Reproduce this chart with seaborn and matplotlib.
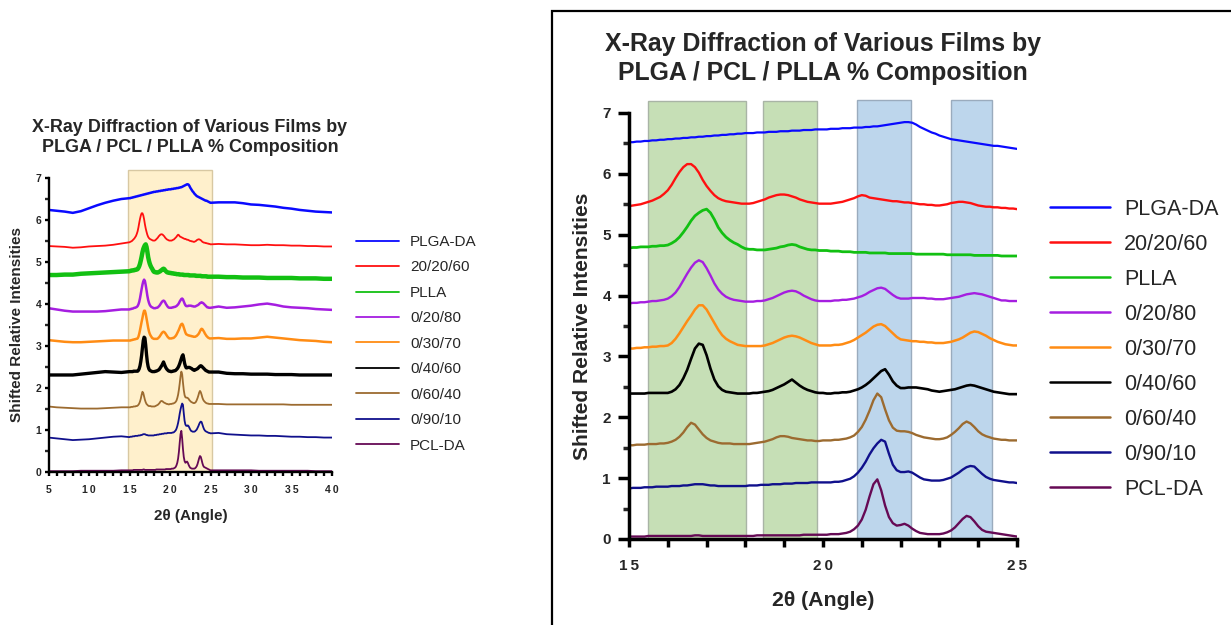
import numpy as np
import pandas as pd
import matplotlib
matplotlib.use("Agg")
import matplotlib.pyplot as plt
from matplotlib.patches import Rectangle
from matplotlib.lines import Line2D
from matplotlib.ticker import MultipleLocator, FixedLocator, FuncFormatter
import seaborn as sns

sns.set_theme(style="ticks")
plt.rcParams["font.family"] = ["Liberation Sans", "DejaVu Sans"]

# ---- diffraction data (shifted relative intensity vs 2-theta) ----
# sampled every degree outside 15-25 and every 0.1 degree inside it
ANGLE = np.concatenate([np.arange(5, 15), np.round(np.linspace(15, 25, 101), 1), np.arange(26, 41)])

SAMPLES = ["PLGA-DA", "20/20/60", "PLLA", "0/20/80", "0/30/70", "0/40/60", "0/60/40", "0/90/10", "PCL-DA"]
COLORS = ["#0a0aff", "#ff1010", "#12c012", "#a51ee0", "#ff8c14", "#000000", "#9c6b30", "#10108c", "#660a55"]

PLGA_DA = [6.24, 6.22, 6.20, 6.17, 6.21, 6.28, 6.35, 6.41, 6.46, 6.50,
           6.52, 6.52, 6.53, 6.53, 6.54, 6.54, 6.55, 6.55, 6.56, 6.56,
           6.57, 6.57, 6.58, 6.58, 6.59, 6.59, 6.60, 6.60, 6.61, 6.61,
           6.62, 6.62, 6.63, 6.63, 6.64, 6.64, 6.65, 6.65, 6.66, 6.66,
           6.67, 6.67, 6.67, 6.68, 6.68, 6.68, 6.69, 6.69, 6.69, 6.70,
           6.70, 6.70, 6.71, 6.71, 6.71, 6.72, 6.72, 6.72, 6.73, 6.73,
           6.73, 6.73, 6.74, 6.74, 6.74, 6.75, 6.75, 6.75, 6.76, 6.76,
           6.76, 6.77, 6.77, 6.78, 6.78, 6.79, 6.80, 6.81, 6.82, 6.83,
           6.84, 6.85, 6.85, 6.84, 6.81, 6.77, 6.74, 6.71, 6.68, 6.66,
           6.63, 6.61, 6.59, 6.57, 6.56, 6.55, 6.54, 6.53, 6.52, 6.51,
           6.50, 6.49, 6.48, 6.47, 6.46, 6.46, 6.45, 6.44, 6.43, 6.42,
           6.41,
           6.42, 6.42, 6.42, 6.40, 6.37, 6.36, 6.34, 6.32, 6.29, 6.27, 6.24, 6.22, 6.20, 6.19, 6.18]

BLEND_20_20_60 = [5.38, 5.37, 5.36, 5.34, 5.35, 5.37, 5.38, 5.39, 5.41, 5.44,
                  5.47, 5.48, 5.49, 5.50, 5.52, 5.54, 5.56, 5.59, 5.62, 5.67,
                  5.73, 5.82, 5.93, 6.03, 6.11, 6.16, 6.16, 6.11, 6.02, 5.90,
                  5.80, 5.72, 5.65, 5.60, 5.57, 5.55, 5.54, 5.53, 5.52, 5.51,
                  5.51, 5.51, 5.52, 5.54, 5.56, 5.58, 5.61, 5.63, 5.65, 5.66,
                  5.66, 5.65, 5.63, 5.61, 5.58, 5.56, 5.54, 5.53, 5.52, 5.51,
                  5.51, 5.51, 5.51, 5.52, 5.53, 5.54, 5.56, 5.58, 5.60, 5.63,
                  5.65, 5.64, 5.61, 5.60, 5.59, 5.58, 5.57, 5.56, 5.55, 5.55,
                  5.54, 5.53, 5.53, 5.52, 5.51, 5.50, 5.50, 5.49, 5.49, 5.48,
                  5.48, 5.49, 5.50, 5.52, 5.53, 5.54, 5.54, 5.53, 5.52, 5.50,
                  5.48, 5.47, 5.46, 5.46, 5.45, 5.45, 5.44, 5.44, 5.43, 5.43,
                  5.42,
                  5.43, 5.42, 5.42, 5.41, 5.40, 5.40, 5.41, 5.40, 5.40, 5.39, 5.39, 5.38, 5.38, 5.37, 5.37]

PLLA = [4.69, 4.69, 4.70, 4.70, 4.72, 4.73, 4.74, 4.75, 4.76, 4.77,
        4.78, 4.79, 4.79, 4.80, 4.80, 4.80, 4.81, 4.81, 4.82, 4.82,
        4.83, 4.86, 4.90, 4.96, 5.04, 5.13, 5.23, 5.31, 5.36, 5.40,
        5.42, 5.36, 5.25, 5.12, 5.03, 4.96, 4.91, 4.87, 4.84, 4.80,
        4.77, 4.76, 4.76, 4.75, 4.75, 4.75, 4.76, 4.77, 4.78, 4.80,
        4.81, 4.83, 4.84, 4.83, 4.80, 4.78, 4.76, 4.75, 4.75, 4.74,
        4.74, 4.74, 4.73, 4.73, 4.73, 4.72, 4.72, 4.72, 4.71, 4.71,
        4.71, 4.71, 4.70, 4.70, 4.70, 4.70, 4.70, 4.69, 4.69, 4.69,
        4.69, 4.69, 4.69, 4.69, 4.68, 4.68, 4.68, 4.68, 4.68, 4.68,
        4.68, 4.68, 4.67, 4.67, 4.67, 4.67, 4.67, 4.67, 4.67, 4.66,
        4.66, 4.66, 4.66, 4.66, 4.66, 4.66, 4.65, 4.65, 4.65, 4.65,
        4.65,
        4.65, 4.64, 4.64, 4.63, 4.63, 4.63, 4.62, 4.62, 4.62, 4.62, 4.61, 4.61, 4.61, 4.60, 4.60]

BLEND_0_20_80 = [3.90, 3.87, 3.84, 3.82, 3.82, 3.82, 3.82, 3.83, 3.85, 3.87,
                 3.87, 3.88, 3.88, 3.89, 3.89, 3.90, 3.91, 3.91, 3.92, 3.93,
                 3.95, 3.99, 4.05, 4.14, 4.25, 4.36, 4.46, 4.54, 4.58, 4.55,
                 4.45, 4.33, 4.20, 4.10, 4.03, 3.98, 3.95, 3.93, 3.92, 3.91,
                 3.90, 3.90, 3.90, 3.91, 3.91, 3.92, 3.94, 3.96, 3.99, 4.02,
                 4.05, 4.07, 4.08, 4.07, 4.04, 4.00, 3.97, 3.94, 3.92, 3.91,
                 3.91, 3.91, 3.91, 3.92, 3.92, 3.93, 3.93, 3.94, 3.95, 3.97,
                 3.99, 4.02, 4.06, 4.09, 4.12, 4.13, 4.11, 4.06, 4.01, 3.97,
                 3.95, 3.95, 3.95, 3.96, 3.96, 3.96, 3.96, 3.95, 3.95, 3.94,
                 3.94, 3.94, 3.95, 3.96, 3.97, 3.98, 4.00, 4.02, 4.03, 4.04,
                 4.03, 4.02, 4.00, 3.98, 3.96, 3.94, 3.92, 3.92, 3.91, 3.91,
                 3.91,
                 3.94, 3.91, 3.92, 3.94, 3.96, 3.99, 4.01, 3.98, 3.94, 3.92, 3.91, 3.90, 3.88, 3.87, 3.86]

BLEND_0_30_70 = [3.14, 3.12, 3.10, 3.09, 3.09, 3.10, 3.11, 3.12, 3.13, 3.13,
                 3.13, 3.13, 3.14, 3.14, 3.15, 3.15, 3.16, 3.16, 3.17, 3.17,
                 3.18, 3.22, 3.29, 3.38, 3.48, 3.58, 3.67, 3.77, 3.84, 3.84,
                 3.77, 3.66, 3.55, 3.44, 3.35, 3.29, 3.25, 3.22, 3.19, 3.18,
                 3.17, 3.17, 3.17, 3.17, 3.17, 3.18, 3.20, 3.22, 3.25, 3.28,
                 3.31, 3.33, 3.34, 3.33, 3.31, 3.28, 3.25, 3.22, 3.20, 3.18,
                 3.18, 3.18, 3.18, 3.19, 3.19, 3.20, 3.22, 3.24, 3.27, 3.31,
                 3.35, 3.39, 3.44, 3.49, 3.52, 3.53, 3.50, 3.44, 3.38, 3.32,
                 3.28, 3.27, 3.26, 3.25, 3.25, 3.24, 3.24, 3.23, 3.23, 3.22,
                 3.22, 3.22, 3.23, 3.24, 3.26, 3.28, 3.31, 3.35, 3.39, 3.41,
                 3.40, 3.37, 3.34, 3.30, 3.27, 3.24, 3.22, 3.20, 3.19, 3.18,
                 3.18,
                 3.19, 3.17, 3.17, 3.18, 3.18, 3.20, 3.22, 3.20, 3.18, 3.16, 3.14, 3.13, 3.12, 3.10, 3.09]

BLEND_0_40_60 = [2.31, 2.31, 2.31, 2.31, 2.33, 2.35, 2.37, 2.39, 2.38, 2.37,
                 2.39, 2.39, 2.39, 2.39, 2.39, 2.40, 2.40, 2.40, 2.40, 2.40,
                 2.40, 2.42, 2.46, 2.53, 2.64, 2.78, 2.96, 3.13, 3.21, 3.19,
                 3.02, 2.80, 2.62, 2.51, 2.45, 2.42, 2.41, 2.40, 2.39, 2.39,
                 2.39, 2.39, 2.40, 2.40, 2.41, 2.42, 2.43, 2.45, 2.48, 2.51,
                 2.54, 2.58, 2.62, 2.57, 2.52, 2.48, 2.45, 2.43, 2.41, 2.40,
                 2.40, 2.39, 2.39, 2.40, 2.40, 2.41, 2.41, 2.42, 2.44, 2.46,
                 2.49, 2.53, 2.58, 2.64, 2.70, 2.76, 2.79, 2.70, 2.59, 2.52,
                 2.48, 2.48, 2.49, 2.49, 2.49, 2.48, 2.47, 2.46, 2.44, 2.43,
                 2.42, 2.43, 2.44, 2.45, 2.46, 2.48, 2.50, 2.52, 2.53, 2.52,
                 2.50, 2.48, 2.46, 2.44, 2.42, 2.41, 2.40, 2.39, 2.38, 2.38,
                 2.38,
                 2.38, 2.35, 2.34, 2.34, 2.33, 2.33, 2.33, 2.32, 2.32, 2.32, 2.31, 2.31, 2.31, 2.31, 2.31]

BLEND_0_60_40 = [1.56, 1.54, 1.53, 1.52, 1.51, 1.51, 1.51, 1.52, 1.53, 1.54,
                 1.54, 1.54, 1.55, 1.55, 1.55, 1.56, 1.56, 1.56, 1.57, 1.57,
                 1.58, 1.60, 1.63, 1.68, 1.75, 1.84, 1.91, 1.88, 1.80, 1.72,
                 1.66, 1.62, 1.60, 1.58, 1.57, 1.57, 1.57, 1.56, 1.56, 1.56,
                 1.56, 1.56, 1.57, 1.58, 1.59, 1.60, 1.62, 1.64, 1.67, 1.69,
                 1.69, 1.68, 1.66, 1.65, 1.64, 1.63, 1.62, 1.62, 1.61, 1.61,
                 1.62, 1.62, 1.62, 1.63, 1.63, 1.64, 1.65, 1.67, 1.70, 1.76,
                 1.84, 1.96, 2.11, 2.28, 2.39, 2.33, 2.13, 1.95, 1.83, 1.78,
                 1.77, 1.77, 1.76, 1.74, 1.71, 1.69, 1.67, 1.66, 1.65, 1.64,
                 1.64, 1.65, 1.67, 1.71, 1.76, 1.82, 1.89, 1.93, 1.90, 1.84,
                 1.77, 1.72, 1.69, 1.67, 1.65, 1.64, 1.63, 1.63, 1.62, 1.62,
                 1.62,
                 1.62, 1.61, 1.61, 1.61, 1.61, 1.61, 1.61, 1.61, 1.61, 1.60, 1.60, 1.60, 1.60, 1.60, 1.60]

BLEND_0_90_10 = [0.82, 0.80, 0.78, 0.76, 0.77, 0.78, 0.80, 0.82, 0.84, 0.85,
                 0.83, 0.84, 0.84, 0.84, 0.85, 0.85, 0.85, 0.86, 0.86, 0.86,
                 0.86, 0.87, 0.87, 0.87, 0.88, 0.88, 0.89, 0.90, 0.90, 0.90,
                 0.89, 0.88, 0.88, 0.87, 0.87, 0.87, 0.87, 0.87, 0.87, 0.87,
                 0.87, 0.88, 0.88, 0.88, 0.89, 0.89, 0.89, 0.90, 0.90, 0.90,
                 0.91, 0.91, 0.91, 0.92, 0.92, 0.92, 0.92, 0.93, 0.93, 0.93,
                 0.93, 0.93, 0.93, 0.94, 0.94, 0.95, 0.97, 0.99, 1.03, 1.09,
                 1.17, 1.27, 1.39, 1.49, 1.57, 1.63, 1.60, 1.40, 1.22, 1.13,
                 1.10, 1.10, 1.11, 1.09, 1.05, 1.01, 0.98, 0.97, 0.96, 0.96,
                 0.96, 0.97, 0.99, 1.01, 1.05, 1.09, 1.14, 1.18, 1.20, 1.19,
                 1.13, 1.07, 1.02, 0.99, 0.97, 0.96, 0.95, 0.94, 0.93, 0.93,
                 0.92,
                 0.93, 0.90, 0.89, 0.88, 0.87, 0.87, 0.86, 0.86, 0.85, 0.84, 0.84, 0.83, 0.83, 0.82, 0.82]

PCL_DA = [0.02, 0.02, 0.02, 0.02, 0.03, 0.03, 0.03, 0.03, 0.03, 0.04,
          0.04, 0.04, 0.04, 0.04, 0.04, 0.05, 0.05, 0.05, 0.05, 0.05,
          0.05, 0.05, 0.05, 0.05, 0.05, 0.05, 0.05, 0.06, 0.06, 0.05,
          0.05, 0.05, 0.05, 0.05, 0.05, 0.05, 0.05, 0.05, 0.05, 0.05,
          0.05, 0.05, 0.05, 0.06, 0.06, 0.06, 0.06, 0.06, 0.06, 0.06,
          0.06, 0.06, 0.06, 0.06, 0.06, 0.07, 0.07, 0.07, 0.07, 0.07,
          0.07, 0.07, 0.08, 0.08, 0.08, 0.09, 0.10, 0.12, 0.16, 0.22,
          0.32, 0.48, 0.70, 0.90, 0.98, 0.80, 0.55, 0.36, 0.26, 0.22,
          0.23, 0.25, 0.22, 0.17, 0.13, 0.10, 0.09, 0.08, 0.08, 0.08,
          0.08, 0.09, 0.11, 0.14, 0.19, 0.26, 0.33, 0.38, 0.36, 0.29,
          0.21, 0.15, 0.12, 0.11, 0.10, 0.09, 0.08, 0.07, 0.06, 0.05,
          0.04,
          0.04, 0.04, 0.04, 0.04, 0.04, 0.03, 0.03, 0.03, 0.03, 0.03, 0.03, 0.03, 0.02, 0.02, 0.02]

SERIES = [PLGA_DA, BLEND_20_20_60, PLLA, BLEND_0_20_80, BLEND_0_30_70,
          BLEND_0_40_60, BLEND_0_60_40, BLEND_0_90_10, PCL_DA]

df = pd.concat(
    [pd.DataFrame({"angle": ANGLE, "intensity": vals, "sample": name})
     for name, vals in zip(SAMPLES, SERIES)],
    ignore_index=True,
)

# highlighted 2-theta windows
OVERVIEW_BAND = (14.86, 25.2)
PLLA_BANDS = [(15.5, 18.02), (18.45, 19.85)]
PCL_BANDS = [(20.88, 22.27), (23.3, 24.36)]

# line weights: thicker where the raw trace is noisier
LW_OVERVIEW = [1.8, 1.3, 3.2, 1.8, 1.8, 2.4, 1.3, 1.3, 1.3]
LW_DETAIL = [1.6, 1.7, 2.0, 1.7, 1.8, 1.9, 1.7, 1.7, 1.7]

W, H = 1231, 625
fig = plt.figure(figsize=(W / 100, H / 100), dpi=100)
fig.patch.set_facecolor("white")


def fx(px):
    return px / W


def fy(py):
    return 1 - py / H


# tick numbers are printed with a little letter spacing
spaced = FuncFormatter(lambda v, p: "\u2009".join(f"{v:g}"))


def style_axes(ax, xlim, spine_w, tick_fs, xlen, ylen, ymlen, xpad, ypad, xmajor):
    ax.set_facecolor("none")
    ax.set_xlim(*xlim)
    ax.set_ylim(0, 7.3)
    for s in ("top", "right"):
        ax.spines[s].set_visible(False)
    ax.spines["left"].set_bounds(0, 7)
    ax.spines["bottom"].set_bounds(*xlim)
    for s in ("left", "bottom"):
        ax.spines[s].set_linewidth(spine_w)
        ax.spines[s].set_color("black")
    ax.xaxis.set_major_locator(MultipleLocator(xmajor))
    ax.xaxis.set_minor_locator(MultipleLocator(1))
    ax.xaxis.set_major_formatter(spaced)
    ax.yaxis.set_major_locator(FixedLocator(range(0, 8)))
    ax.yaxis.set_minor_locator(FixedLocator(np.arange(0.5, 7, 1.0)))
    ax.tick_params(axis="x", which="both", direction="out", width=spine_w, length=xlen,
                   labelsize=tick_fs, color="black", pad=xpad)
    ax.tick_params(axis="y", which="major", direction="out", width=spine_w, length=ylen,
                   labelsize=tick_fs, color="black", pad=ypad)
    ax.tick_params(axis="y", which="minor", direction="out", width=spine_w, length=ymlen)
    for lab in ax.get_xticklabels() + ax.get_yticklabels():
        lab.set_fontweight("bold")
    ax.set_xlabel("")
    ax.set_ylabel("")
    ax.grid(False)


# ---------------- overview panel: 5-40 degrees ----------------
ax1 = fig.add_axes([fx(48.5), 1 - 472 / H, fx(283.5), 7.3 * 42.0 / H])
ax1.add_patch(Rectangle((OVERVIEW_BAND[0], 0), OVERVIEW_BAND[1] - OVERVIEW_BAND[0], 7.19,
                        facecolor="#fff0cc", edgecolor="#d8c8a2", lw=1.0, zorder=0))
for name, col, lw in zip(SAMPLES, COLORS, LW_OVERVIEW):
    sns.lineplot(data=df[df["sample"] == name], x="angle", y="intensity", color=col,
                 lw=lw, estimator=None, sort=False, legend=False, ax=ax1, zorder=2)
style_axes(ax1, (5, 40), 1.7, 7.5, 3, 3, 3, 6.5, 2, 5)

fig.text(fx(190), fy(127), "X-Ray Diffraction of Various Films by", ha="center", va="center",
         fontsize=12.9, fontweight="bold")
fig.text(fx(190), fy(147), "PLGA / PCL / PLLA % Composition", ha="center", va="center",
         fontsize=12.9, fontweight="bold")
fig.text(fx(17), fy(325), "Shifted Relative Intensities", rotation=90, ha="center", va="center",
         fontsize=11, fontweight="bold")
fig.text(fx(191), fy(516), "2θ (Angle)", ha="center", va="center", fontsize=11, fontweight="bold")

handles1 = [Line2D([], [], color=c, lw=1.3) for c in COLORS]
fig.legend(handles1, SAMPLES, loc="upper left", bbox_to_anchor=(fx(356), fy(235)),
           bbox_transform=fig.transFigure, frameon=False, borderpad=0, borderaxespad=0,
           fontsize=11, handlelength=2.8, handletextpad=0.75, labelspacing=0.75)

# ---------------- detail panel: 15-25 degrees ----------------
fig.add_artist(Rectangle((fx(551.5), -0.05), fx(W + 20 - 551.5), 0.05 + fy(10.5),
                         transform=fig.transFigure, fill=False, edgecolor="black",
                         lw=1.6, clip_on=False))

ax2 = fig.add_axes([fx(629), 1 - 539 / H, fx(388), 7.3 * 60.86 / H])
for lo, hi in PLLA_BANDS:
    ax2.add_patch(Rectangle((lo, 0), hi - lo, 7.19, facecolor="#c6dfb6",
                            edgecolor="#a9b4a6", lw=1.0, zorder=0))
for lo, hi in PCL_BANDS:
    ax2.add_patch(Rectangle((lo, 0), hi - lo, 7.22, facecolor="#bdd6ec",
                            edgecolor="#9aabbd", lw=1.0, zorder=0))
for name, col, lw in zip(SAMPLES, COLORS, LW_DETAIL):
    sns.lineplot(data=df[df["sample"] == name], x="angle", y="intensity", color=col,
                 lw=lw, estimator=None, sort=False, legend=False, ax=ax2, zorder=2)
style_axes(ax2, (15, 25), 2.5, 11, 5.5, 8, 4.5, 9, 5, 5)

fig.text(fx(823), fy(44), "X-Ray Diffraction of Various Films by", ha="center", va="center",
         fontsize=17.9, fontweight="bold")
fig.text(fx(823), fy(73), "PLGA / PCL / PLLA % Composition", ha="center", va="center",
         fontsize=17.9, fontweight="bold")
fig.text(fx(583), fy(326), "Shifted Relative Intensities", rotation=90, ha="center", va="center",
         fontsize=15.1, fontweight="bold")
fig.text(fx(823), fy(600), "2θ (Angle)", ha="center", va="center", fontsize=15.3, fontweight="bold")

handles2 = [Line2D([], [], color=c, lw=1.8) for c in COLORS]
fig.legend(handles2, SAMPLES, loc="upper left", bbox_to_anchor=(fx(1050), fy(199)),
           bbox_transform=fig.transFigure, frameon=False, borderpad=0, borderaxespad=0,
           fontsize=15.5, handlelength=2.8, handletextpad=0.65, labelspacing=0.65)

fig.savefig("out.png", dpi=100, facecolor="white")
